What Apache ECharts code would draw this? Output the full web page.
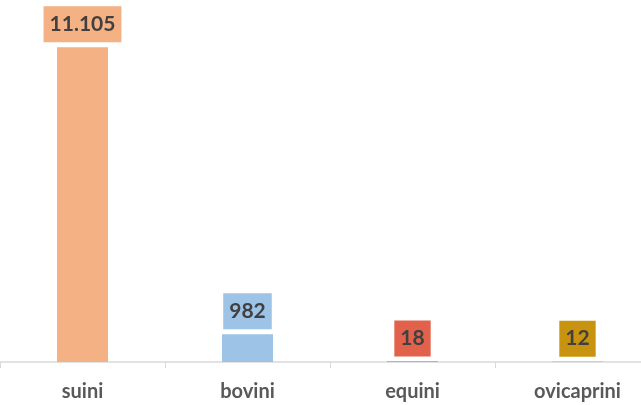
<!DOCTYPE html>
<html>
<head>
<meta charset="utf-8">
<script src="https://cdn.jsdelivr.net/npm/echarts@6/dist/echarts.min.js"></script>
<style>html,body{margin:0;padding:0;background:#fff;overflow:hidden;width:641px;height:405px}#c{width:660px;height:405px}</style>
</head>
<body>
<div id="c"></div>
<script>
const categories = ['suini', 'bovini', 'equini', 'ovicaprini'];
const values = [11105, 982, 18, 12];
const colors = ['#F4B183', '#9DC3E6', '#E2614B', '#C8930E'];

const chart = echarts.init(document.getElementById('c'));
chart.setOption({
  animation: false,
  grid: { left: 0, top: 22, right: 0, bottom: 43, containLabel: false },
  xAxis: {
    type: 'category',
    data: categories,
    axisLine: { lineStyle: { color: '#D9D9D9', width: 1.5 } },
    axisTick: { show: true, length: 6, lineStyle: { color: '#D9D9D9' } },
    axisLabel: { color: '#595959', fontFamily: 'Lato', fontWeight: 'bold', fontSize: 20, margin: 20 }
  },
  yAxis: { type: 'value', min: 0, max: 12000, show: false, splitLine: { show: false } },
  series: [{
    type: 'bar',
    barWidth: 51,
    data: values.map((v, i) => ({ value: v, itemStyle: { color: colors[i] } })),
    label: {
      show: true,
      position: 'top',
      distance: 5,
      formatter: p => p.value.toLocaleString('it-IT'),
      color: '#404040',
      fontFamily: 'Lato',
      fontWeight: 'bold',
      fontSize: 21,
      lineHeight: 22,
      backgroundColor: 'inherit',
      padding: [7, 6]
    }
  }]
});
</script>
</body>
</html>
